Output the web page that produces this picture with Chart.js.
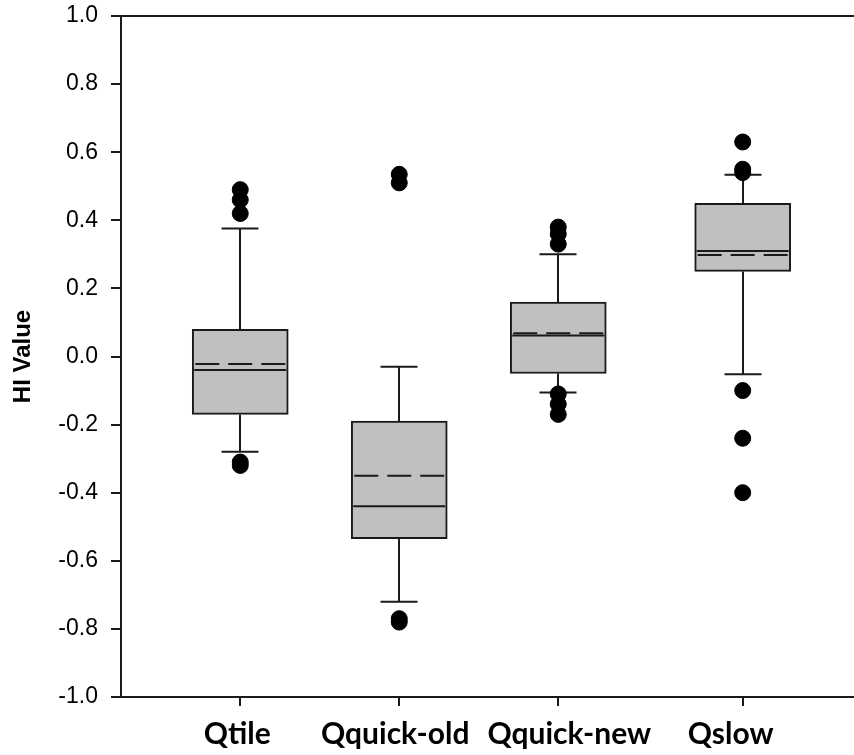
<!DOCTYPE html>
<html>
<head>
<meta charset="utf-8">
<script src="https://cdn.jsdelivr.net/npm/chart.js@4/dist/chart.umd.min.js"></script>
<style>
  html, body { margin: 0; padding: 0; background: #fff; overflow: hidden; }
</style>
</head>
<body>
<canvas id="hiChart" width="854" height="755"></canvas>
<script>
// Box plot summary for each method
const categories = ['Qtile', 'Qquick-old', 'Qquick-new', 'Qslow'];
const xPos = [1, 2, 3, 4.16];
const q1 = [-0.17, -0.535, -0.05, 0.25];
const q3 = [0.08, -0.19, 0.16, 0.45];
const medians = [-0.04, -0.44, 0.062, 0.31];
const means = [-0.022, -0.35, 0.068, 0.298];
const whiskerLow = [-0.28, -0.72, -0.106, -0.052];
const whiskerHigh = [0.376, -0.03, 0.30, 0.534];
const outliers = [
  [0.49, 0.46, 0.42, -0.31, -0.32],
  [0.535, 0.51, -0.77, -0.78],
  [0.38, 0.36, 0.33, -0.11, -0.14, -0.17],
  [0.63, 0.55, 0.54, -0.10, -0.24, -0.40]
];
const yTicks = [-1.0, -0.8, -0.6, -0.4, -0.2, 0.0, 0.2, 0.4, 0.6, 0.8, 1.0];

const INK = '#1a1a1a';
const BOX_W = 96;
const CAP_W = 37;
const LABEL_FONT = 'bold 30px Lato';
const LABEL_NUDGE = [-3, -4, 11, -12]; // px shift of each category label from its tick
const LABEL_BASELINE = 47;            // px below the x axis line

// keep the plot frame fixed: no extra room reserved for edge labels
function fixSize(prop, size) {
  return (scale) => {
    scale[prop] = size;
    scale.paddingTop = 0;
    scale.paddingBottom = 0;
    scale.paddingLeft = 0;
    scale.paddingRight = 0;
  };
}

// whiskers under the boxes and dots, median/mean lines on top
const boxLinesPlugin = {
  id: 'boxLines',
  beforeDatasetsDraw(chart) {
    const { ctx, scales: { x, y } } = chart;
    ctx.save();
    ctx.strokeStyle = INK;
    ctx.lineWidth = 2;
    xPos.forEach((v, i) => {
      const cx = Math.round(x.getPixelForValue(v));
      [[q3[i], whiskerHigh[i]], [q1[i], whiskerLow[i]]].forEach(([from, to]) => {
        const y0 = y.getPixelForValue(from);
        const y1 = y.getPixelForValue(to);
        ctx.beginPath();
        ctx.moveTo(cx, y0);
        ctx.lineTo(cx, y1);
        ctx.moveTo(cx - CAP_W / 2, y1);
        ctx.lineTo(cx + CAP_W / 2, y1);
        ctx.stroke();
      });
    });
    ctx.restore();
  },
  afterDatasetsDraw(chart) {
    const { ctx, scales: { x, y } } = chart;
    ctx.save();
    ctx.strokeStyle = INK;
    xPos.forEach((v, i) => {
      const cx = x.getPixelForValue(v);
      const left = cx - BOX_W / 2 + 2;
      const right = cx + BOX_W / 2 - 2;
      // median
      ctx.lineWidth = 2;
      ctx.setLineDash([]);
      let py = y.getPixelForValue(medians[i]);
      ctx.beginPath();
      ctx.moveTo(left, py);
      ctx.lineTo(right, py);
      ctx.stroke();
      // mean
      ctx.setLineDash([24, 9]);
      py = y.getPixelForValue(means[i]);
      ctx.beginPath();
      ctx.moveTo(left + 1, py);
      ctx.lineTo(right, py);
      ctx.stroke();
    });
    ctx.restore();
  }
};

// category names under the x ticks
const categoryLabelsPlugin = {
  id: 'categoryLabels',
  afterDraw(chart) {
    const { ctx, scales: { x } } = chart;
    ctx.save();
    ctx.font = LABEL_FONT;
    ctx.fillStyle = '#000';
    ctx.textAlign = 'center';
    ctx.textBaseline = 'alphabetic';
    categories.forEach((name, i) => {
      ctx.fillText(name, x.getPixelForValue(xPos[i]) + LABEL_NUDGE[i], x.top + LABEL_BASELINE);
    });
    ctx.restore();
  }
};

const boxData = xPos.map((v, i) => ({ x: v, y: [q1[i], q3[i]] }));
const outlierData = [];
outliers.forEach((list, i) => list.forEach(val => outlierData.push({ x: xPos[i], y: val })));

new Chart(document.getElementById('hiChart'), {
  type: 'bar',
  data: {
    datasets: [
      {
        type: 'scatter',
        data: outlierData,
        backgroundColor: '#000',
        borderColor: '#000',
        pointRadius: 8,
        pointHoverRadius: 8,
        order: 0
      },
      {
        type: 'bar',
        data: boxData,
        backgroundColor: '#c0c0c0',
        borderColor: INK,
        borderWidth: 2,
        borderSkipped: false,
        barThickness: BOX_W,
        grouped: false,
        order: 1
      }
    ]
  },
  options: {
    responsive: false,
    animation: false,
    layout: { padding: 0, autoPadding: false },
    scales: {
      x: {
        type: 'linear',
        position: 'bottom',
        offset: false,
        min: 0.25,
        max: 4.86,
        afterBuildTicks: (scale) => { scale.ticks = xPos.map(v => ({ value: v })); },
        afterFit: fixSize('height', 58),
        ticks: { display: false },
        grid: { display: true, offset: false, drawOnChartArea: false, drawTicks: true, tickLength: 9, color: INK, lineWidth: 2 },
        border: { display: true, color: INK, width: 2 }
      },
      xTop: {
        type: 'linear',
        position: 'top',
        offset: false,
        min: 0.25,
        max: 4.86,
        afterFit: fixSize('height', 16),
        ticks: { display: false },
        grid: { display: false, offset: false },
        border: { display: true, color: INK, width: 2 }
      },
      y: {
        min: -1,
        max: 1,
        afterBuildTicks: (scale) => { scale.ticks = yTicks.map(v => ({ value: v })); },
        afterFit: fixSize('width', 121),
        ticks: {
          padding: 13,
          color: '#000',
          font: { family: 'Liberation Sans', size: 23 },
          callback: (value) => value.toFixed(1)
        },
        grid: { display: true, drawOnChartArea: false, drawTicks: true, tickLength: 10, color: INK, lineWidth: 2 },
        border: { display: true, color: INK, width: 2 },
        title: {
          display: true,
          text: 'HI Value',
          color: '#000',
          font: { family: 'Liberation Sans', weight: 'bold', size: 24 },
          padding: { top: 9, bottom: 0 }
        }
      }
    },
    plugins: {
      legend: { display: false },
      tooltip: { enabled: false }
    }
  },
  plugins: [boxLinesPlugin, categoryLabelsPlugin]
});
</script>
</body>
</html>
